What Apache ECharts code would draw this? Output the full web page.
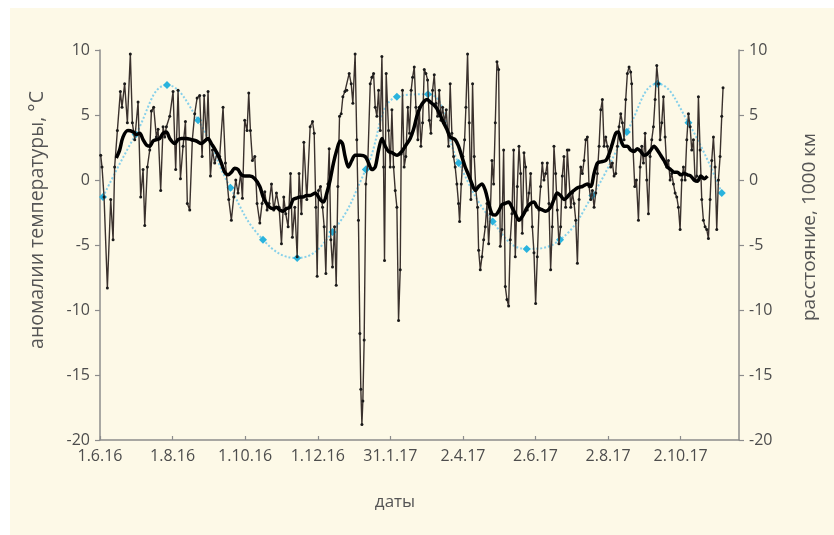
<!DOCTYPE html>
<html>
<head>
<meta charset="utf-8">
<script src="https://cdn.jsdelivr.net/npm/echarts@6/dist/echarts.min.js"></script>
<style>
  html, body { margin: 0; padding: 0; background: #ffffff; }
  #chart { width: 834px; height: 535px; }
</style>
</head>
<body>
<div id="chart"></div>
<script>
// Tick labels of the date axis, one every 61 days starting 1.6.16
const dateLabels = ['1.6.16', '1.8.16', '1.10.16', '1.12.16', '31.1.17', '2.4.17', '2.6.17', '2.8.17', '2.10.17'];
const dayStep = 61;

// Daily temperature anomalies, °C (day counted from 1.6.16)
const tempDays = [
  0.6, 1.7, 3.4, 6.2, 9.0, 11.0, 12.3, 14.6, 17.1, 18.5, 20.7, 23.0, 25.5, 27.2, 29.2, 32.0, 34.2, 36.2, 37.6, 39.8,
  41.8, 43.2, 45.1, 47.4, 48.8, 51.0, 53.0, 54.4, 55.8, 58.6, 61.4, 63.6, 65.6, 67.6, 69.8, 71.8, 73.4, 75.4, 77.6, 79.6,
  81.6, 83.8, 85.8, 87.5, 89.4, 90.8, 92.8, 94.5, 96.4, 98.4, 100.6, 103.4, 105.4, 108.2, 110.4, 112.4, 114.1, 116.0, 118.3, 119.7,
  121.6, 123.6, 125.0, 126.4, 128.1, 130.1, 132.0, 134.3, 136.2, 138.5, 140.4, 142.1, 144.1, 146.0, 148.3, 150.5, 152.5, 154.4, 156.1, 158.1,
  160.1, 161.7, 163.7, 165.7, 167.3, 169.3, 171.3, 173.8, 176.6, 178.6, 180.0, 181.4, 182.5, 183.6, 185.3, 187.0, 188.4, 189.8, 191.5, 192.6,
  194.0, 195.4, 197.1, 198.5, 199.9, 201.3, 202.7, 204.1, 205.8, 207.4, 209.4, 211.1, 212.5, 214.4, 215.8, 217.2, 218.4, 219.2, 220.1, 220.9,
  222.0, 223.4, 225.1, 227.1, 228.5, 229.9, 231.3, 232.7, 234.1, 235.5, 236.9, 238.3, 239.1, 240.5, 242.5, 243.9, 245.3, 246.7, 248.1, 249.5,
  250.9, 252.3, 253.1, 254.2, 255.6, 257.0, 258.7, 260.1, 261.5, 262.7, 264.1, 265.5, 267.1, 268.3, 269.7, 271.1, 272.5, 273.9, 275.3, 276.7,
  278.1, 279.5, 280.9, 282.3, 283.7, 285.1, 286.5, 287.9, 289.6, 291.0, 292.9, 294.3, 295.7, 297.1, 298.5, 299.9, 301.3, 302.2, 303.6, 305.0,
  306.4, 307.5, 308.9, 310.3, 311.7, 313.1, 314.5, 315.9, 317.3, 318.2, 319.6, 321.0, 322.4, 323.8, 325.2, 326.6, 328.0, 329.4, 330.8, 332.2,
  333.6, 335.0, 336.4, 337.8, 339.2, 340.6, 342.0, 343.4, 344.8, 346.2, 347.6, 349.0, 350.7, 352.1, 353.5, 354.9, 356.3, 357.7, 359.1, 360.5,
  361.9, 363.3, 364.7, 366.1, 367.5, 368.9, 370.3, 371.7, 373.1, 374.5, 375.9, 377.3, 378.7, 380.1, 381.5, 382.9, 384.3, 385.7, 387.1, 388.5,
  389.9, 391.3, 392.7, 394.1, 395.6, 397.0, 398.4, 399.8, 401.2, 402.6, 404.0, 405.4, 406.8, 408.2, 409.6, 411.0, 412.4, 413.8, 415.2, 416.6,
  418.0, 419.4, 420.8, 422.2, 423.6, 425.0, 426.4, 427.8, 429.2, 430.6, 432.0, 433.4, 434.8, 436.2, 437.6, 439.0, 440.4, 441.8, 443.2, 444.6,
  446.0, 446.8, 448.0, 449.4, 450.8, 452.5, 453.9, 455.3, 456.7, 458.1, 459.5, 460.9, 462.3, 463.7, 465.1, 466.5, 467.9, 469.3, 470.7, 472.1,
  473.5, 474.9, 476.3, 477.7, 479.1, 480.5, 481.9, 483.3, 484.7, 486.1, 487.5, 488.9, 490.3, 491.7, 493.1, 494.5, 495.9, 497.3, 498.7, 500.1,
  501.5, 502.9, 504.3, 505.7, 507.1, 508.5, 509.9, 511.3, 512.7, 514.1, 515.5, 516.9, 518.3, 519.7, 521.1, 522.5, 523.6
];
const tempValues = [
  1.9, 1.0, -1.3, -8.3, -1.5, -4.6, 1.0, 3.8, 6.8, 5.6, 7.4, 4.4, 9.7, 4.4, 3.1, 6.0, -1.3, 0.8, -3.5, 1.0,
  2.3, 5.3, 5.6, 3.3, 3.9, -0.8, 4.1, 3.3, 4.1, 4.9, 6.8, 0.8, 6.9, 0.1, 2.6, 4.5, -1.8, -2.3, 3.1, 5.1,
  6.3, 6.5, 1.8, 6.5, 3.1, 6.8, 0.3, 2.3, 1.3, 2.1, 1.8, 5.6, 1.3, -1.5, -3.1, -1.3, 0.0, -1.0, 0.5, -1.4,
  4.6, 3.8, 6.7, 3.8, 1.5, 1.8, -1.8, -3.3, -1.8, -0.9, -2.3, -1.8, -0.3, -2.3, -1.0, -2.1, -4.9, -1.3, -2.6, -3.6,
  0.5, -4.4, -2.1, -5.9, 0.5, -2.6, 2.9, -1.5, 4.1, 4.5, 3.6, -2.1, -7.4, -0.8, -0.5, -2.1, -3.6, -7.2, -0.3, 2.4,
  -4.6, -6.7, -3.6, -8.1, -0.5, 4.9, 5.1, 6.4, 6.8, 6.9, 8.2, 7.4, 5.9, 9.7, 3.1, -3.1, -11.8, -16.1, -18.8, -17.0,
  -12.3, -0.3, 1.5, 7.4, 7.9, 8.2, 5.6, 4.9, 6.9, 3.8, 9.5, 1.0, -6.2, 8.2, 3.8, 1.0, 5.4, 1.0, -0.8, -2.1,
  -10.8, -6.9, 2.0, 6.9, 1.0, 1.8, 5.6, 3.6, 6.9, 7.9, 8.7, 5.6, 3.1, 5.6, 2.6, 4.4, 8.5, 8.2, 7.7, 4.6,
  3.6, 6.9, 8.1, 5.9, 4.9, 6.9, 4.6, 5.6, 4.4, 5.4, 2.6, 7.4, 3.6, 1.8, 1.0, -0.3, -1.8, -3.2, -0.3, 1.8,
  3.1, 5.6, 9.7, 4.4, -1.5, 7.4, 1.8, -0.8, -2.1, -5.4, -6.9, -5.9, -4.6, -3.6, -1.8, -4.9, -2.6, 1.5, -0.3, 4.4,
  9.1, 8.5, -5.1, -3.8, 2.3, -8.2, -9.2, -9.7, -4.6, -2.6, 2.3, -5.9, -0.5, 2.6, 0.5, -4.1, 2.1, 1.0, -2.3, -1.0,
  0.5, -3.6, -5.6, -9.5, -5.9, -2.3, -0.5, 1.3, 0.0, 0.5, 1.3, -1.8, -6.9, -3.6, 2.6, 0.5, -2.3, -4.9, -3.6, 0.3,
  1.8, -2.1, 2.3, 2.3, -2.1, -1.0, -1.8, -3.1, -6.4, -1.5, 1.0, 0.5, 1.5, 3.1, 3.3, -0.5, -1.5, -0.8, -2.1, -1.0,
  0.5, 2.6, 5.4, 6.2, 2.6, 3.3, 2.6, 1.8, 1.0, 1.3, 0.3, 0.5, 2.6, 4.1, 5.1, 4.4, 3.1, 6.2, 8.2, 8.7,
  8.3, 7.4, 2.3, -0.5, 0.0, -3.1, 1.0, 2.6, 1.3, 3.6, 0.0, -2.6, 1.8, 3.1, 4.1, 6.2, 8.8, 7.4, 3.1, 4.4,
  6.4, 3.3, 1.0, 1.5, 0.0, 0.5, -0.3, -1.0, -1.3, -2.1, -3.8, 0.0, 1.0, 0.0, 3.1, 5.1, 4.1, 2.3, 3.1, 0.0,
  0.3, 6.4, 2.3, -1.5, -3.1, -3.6, -3.8, -4.5, -1.5, 1.5, 3.3, 1.0, -3.8, 0.0, 1.8, 4.9, 7.1
];

// Smoothed temperature anomaly (running mean), °C
const avgDays = [
  13.7, 16.5, 19.3, 23.5, 27.8, 30.6, 33.4, 36.2, 39.0, 41.8, 44.6, 47.4, 50.2, 53.0, 55.8, 58.6, 62.8, 65.6, 68.4, 72.6,
  76.8, 81.0, 85.2, 88.0, 90.8, 93.6, 96.4, 99.2, 102.0, 104.8, 107.6, 110.4, 113.2, 116.0, 118.8, 121.6, 125.9, 130.1, 134.3, 137.1,
  139.9, 142.7, 145.5, 148.3, 151.1, 153.9, 156.7, 159.5, 162.3, 165.1, 167.9, 170.7, 173.5, 176.6, 180.8, 185.0, 187.8, 190.6, 193.4, 196.2,
  199.0, 201.8, 203.8, 206.0, 208.8, 211.6, 214.4, 218.7, 222.9, 225.7, 228.5, 231.3, 234.1, 236.9, 239.7, 242.5, 245.3, 249.5, 253.7, 256.5,
  260.7, 263.5, 266.3, 269.1, 271.9, 274.7, 277.5, 280.3, 283.1, 285.9, 288.7, 291.5, 294.3, 298.5, 301.3, 304.1, 306.9, 309.7, 312.6, 315.4,
  318.2, 321.0, 323.8, 326.6, 329.4, 332.2, 335.0, 337.8, 340.6, 343.4, 346.2, 349.0, 352.1, 354.9, 359.1, 361.9, 364.7, 367.5, 371.7, 374.5,
  378.7, 381.5, 384.3, 387.1, 389.9, 392.7, 395.6, 398.4, 401.2, 405.4, 409.6, 412.4, 415.2, 418.0, 420.8, 425.0, 427.8, 430.6, 433.4, 435.6,
  437.6, 440.4, 443.2, 446.0, 448.8, 451.6, 454.4, 457.2, 460.0, 462.8, 465.6, 468.4, 471.2, 474.0, 476.8, 479.6, 482.4, 485.2, 488.1, 490.9,
  493.7, 496.5, 499.3, 502.1, 504.9, 507.7, 510.5
];
const avgValues = [
  1.7, 2.3, 3.3, 3.8, 3.7, 3.5, 3.6, 3.1, 2.7, 2.6, 3.0, 3.1, 3.2, 3.6, 3.7, 3.2, 2.8, 3.1, 3.2, 3.2,
  3.1, 3.0, 2.8, 3.0, 3.2, 2.8, 2.4, 1.9, 1.3, 0.6, 0.4, 0.6, 0.9, 0.8, 0.4, 0.3, 0.3, 0.1, -0.5, -1.3,
  -1.8, -2.1, -2.2, -2.1, -2.3, -2.4, -2.2, -2.1, -1.5, -1.4, -1.3, -1.3, -1.2, -1.2, -1.0, -1.5, -1.7, -1.0, 0.0, 1.3,
  2.3, 3.0, 2.8, 1.8, 1.0, 1.5, 1.9, 1.9, 1.8, 1.3, 0.8, 1.0, 2.3, 3.2, 2.6, 2.2, 2.1, 1.9, 2.2, 2.6,
  3.2, 3.9, 4.9, 5.6, 6.0, 6.2, 6.0, 5.8, 5.5, 5.0, 4.4, 3.9, 3.3, 3.1, 2.6, 1.8, 1.0, 0.4, -0.3, -0.8,
  -0.5, -0.3, -0.8, -1.8, -2.6, -2.7, -2.4, -1.9, -1.8, -1.7, -2.1, -2.6, -3.1, -2.8, -2.1, -1.8, -1.7, -2.1, -2.3, -2.4,
  -2.1, -1.5, -1.0, -1.2, -1.5, -1.3, -1.0, -0.8, -0.6, -0.5, -0.3, -0.5, 0.5, 1.3, 1.4, 1.5, 2.0, 2.8, 3.6, 3.7,
  3.1, 2.6, 2.6, 2.3, 2.2, 2.4, 2.2, 1.9, 2.0, 2.3, 2.6, 2.3, 1.9, 1.5, 1.0, 0.8, 0.6, 0.6, 0.4, 0.5,
  0.4, 0.3, 0.0, -0.1, 0.3, 0.1, 0.3
];

// Distance, 1000 km (right axis)
const distDays = [2.5, 30.0, 56.3, 82.4, 109.6, 137.0, 165.7, 195.4, 223.4, 249.5, 275.6, 301.4, 330.0, 358.6, 386.6, 413.8, 442.7, 468.5, 494.5, 522.5];
const distValues = [-1.3, 3.5, 7.3, 4.6, -0.6, -4.6, -6.0, -4.0, 0.8, 6.4, 6.6, 1.3, -3.2, -5.3, -4.6, -1.2, 3.7, 7.4, 4.4, -1.0];

const pairs = (xs, ys) => xs.map((x, i) => [x, ys[i]]);

const FONT = '"Open Sans", "Noto Sans", sans-serif';
const TEXT = '#4d4d4d';
const AXIS = '#8c8c8c';

const chart = echarts.init(document.getElementById('chart'), null, { renderer: 'canvas' });

const yAxisCommon = {
  type: 'value',
  min: -20,
  max: 10,
  interval: 5,
  axisLine: { show: true, lineStyle: { color: AXIS, width: 1.5 } },
  axisTick: { show: true, inside: false, length: 5, lineStyle: { color: AXIS, width: 1.2 } },
  splitLine: { show: false },
  axisLabel: { color: TEXT, fontFamily: FONT, fontSize: 16, margin: 10 }
};

chart.setOption({
  backgroundColor: '#ffffff',
  animation: false,
  graphic: [
    { type: 'rect', z: -10, shape: { x: 10, y: 8, width: 824, height: 527 }, style: { fill: '#fdf9e7' } },
    {
      type: 'text', z: 10,
      x: 37, y: 220,
      rotation: Math.PI / 2,
      style: { text: 'аномалии температуры, °С', fill: '#555555', font: '19.5px ' + FONT, textAlign: 'center', textVerticalAlign: 'middle' }
    },
    {
      type: 'text', z: 10,
      x: 810, y: 227,
      rotation: Math.PI / 2,
      style: { text: 'расстояние, 1000 км', fill: '#555555', font: '19px ' + FONT, textAlign: 'center', textVerticalAlign: 'middle' }
    },
    {
      type: 'text', z: 10,
      x: 395, y: 502,
      style: { text: 'даты', fill: '#555555', font: '17px ' + FONT, textAlign: 'center', textVerticalAlign: 'middle' }
    }
  ],
  grid: { left: 100, right: 95, top: 50, bottom: 95, containLabel: false },
  xAxis: {
    type: 'value',
    min: 0,
    max: 537,
    interval: dayStep,
    axisLine: { show: true, onZero: false, lineStyle: { color: AXIS, width: 1.5 } },
    axisTick: { show: true, inside: true, length: 4, lineStyle: { color: AXIS, width: 1.2 } },
    splitLine: { show: false },
    axisLabel: {
      color: TEXT, fontFamily: FONT, fontSize: 16, margin: 8,
      showMaxLabel: false,
      formatter: v => {
        const k = Math.round(v / dayStep);
        return (Math.abs(v - k * dayStep) < 0.01 && dateLabels[k]) ? dateLabels[k] : '';
      }
    }
  },
  yAxis: [
    Object.assign({}, yAxisCommon, { position: 'left' }),
    Object.assign({}, yAxisCommon, { position: 'right' })
  ],
  series: [
    {
      name: 'distance',
      type: 'line',
      yAxisIndex: 1,
      data: pairs(distDays, distValues),
      smooth: 0.45,
      symbol: 'diamond',
      symbolSize: 8,
      itemStyle: { color: '#2ab3dd' },
      lineStyle: { color: '#86d0ea', width: 2, type: 'dotted' },
      z: 1
    },
    {
      name: 'anomaly',
      type: 'line',
      data: pairs(tempDays, tempValues),
      symbol: 'circle',
      symbolSize: 3,
      itemStyle: { color: '#1a1a1a' },
      lineStyle: { color: '#3a312d', width: 1.4 },
      z: 2
    },
    {
      name: 'running mean',
      type: 'line',
      data: pairs(avgDays, avgValues),
      smooth: 0.3,
      showSymbol: false,
      symbol: 'none',
      lineStyle: { color: '#000000', width: 3.5 },
      z: 3
    }
  ]
});
</script>
</body>
</html>
